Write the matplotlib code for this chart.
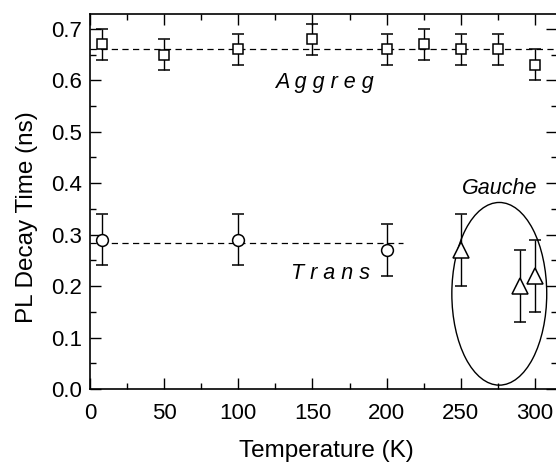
import matplotlib.pyplot as plt
from matplotlib.patches import Ellipse
from matplotlib.ticker import MultipleLocator

plt.rcParams['font.family'] = ['Liberation Sans', 'DejaVu Sans']

# Aggregated phase
agg_T = [8, 50, 100, 150, 200, 225, 250, 275, 300]
agg_tau = [0.67, 0.65, 0.66, 0.68, 0.66, 0.67, 0.66, 0.66, 0.63]
agg_err = [0.03, 0.03, 0.03, 0.03, 0.03, 0.03, 0.03, 0.03, 0.03]
agg_mean = 0.66

# Trans conformer
trans_T = [8, 100, 200]
trans_tau = [0.29, 0.29, 0.27]
trans_err = [0.05, 0.05, 0.05]
trans_mean = 0.284

# Gauche conformer
gauche_T = [250, 290, 300]
gauche_tau = [0.27, 0.20, 0.22]
gauche_err = [0.07, 0.07, 0.07]

fig = plt.figure(figsize=(5.56, 4.62), dpi=100)
ax = fig.add_axes([0.162, 0.158, 0.84, 0.812])

# Mean lines
ax.axhline(agg_mean, color='black', lw=0.9, ls=(0, (5, 3.5)), zorder=1)
ax.plot([0, 211], [trans_mean, trans_mean], color='black', lw=0.9,
        ls=(0, (5, 3.5)), zorder=1)

style = dict(color='black', mfc='white', mec='black', mew=1.1,
             elinewidth=1.0, capsize=4.5, capthick=1.0, ls='none')
ax.errorbar(agg_T, agg_tau, yerr=agg_err, marker='s', ms=7.5, **style)
ax.errorbar(trans_T, trans_tau, yerr=trans_err, marker='o', ms=8.5, **style)
ax.errorbar(gauche_T, gauche_tau, yerr=gauche_err, marker='^', ms=11, **style)

# Ring around the gauche points
ax.add_patch(Ellipse((276, 0.185), 64, 0.355, fill=False,
                     edgecolor='black', lw=1.0))

ax.text(125, 0.595, 'A g g r e g', style='italic', fontsize=15.5,
        ha='left', va='center')
ax.text(135.5, 0.224, 'T r a n s', style='italic', fontsize=15.5,
        ha='left', va='center')
ax.text(276, 0.39, 'Gauche', style='italic', fontsize=15.5,
        ha='center', va='center')

ax.set_xlim(0, 315)
ax.set_ylim(0, 0.729)
ax.xaxis.set_major_locator(MultipleLocator(50))
ax.xaxis.set_minor_locator(MultipleLocator(25))
ax.yaxis.set_major_locator(MultipleLocator(0.1))
ax.yaxis.set_minor_locator(MultipleLocator(0.05))
ax.yaxis.set_major_formatter(plt.FormatStrFormatter('%.1f'))
ax.tick_params(which='both', direction='in', top=True, right=True,
               width=1.0, labelsize=16, pad=6)
ax.tick_params(axis='x', pad=10)
ax.tick_params(which='major', length=8)
ax.tick_params(which='minor', length=4.5)
for s in ax.spines.values():
    s.set_linewidth(1.2)

ax.set_xlabel('Temperature (K)', fontsize=17.5)
ax.set_ylabel('PL Decay Time (ns)', fontsize=17.5)
ax.xaxis.set_label_coords(0.507, -0.135)
ax.yaxis.set_label_coords(-0.112, 0.459)

fig.savefig('out.png', dpi=100)
